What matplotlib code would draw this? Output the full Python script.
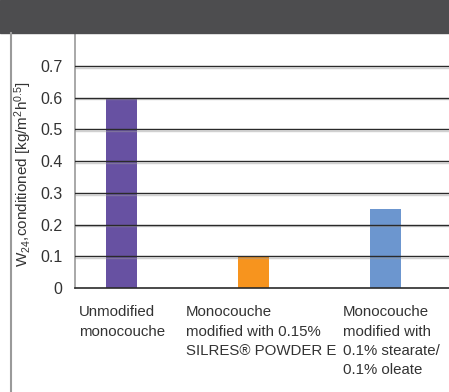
import matplotlib.pyplot as plt
import matplotlib.patheffects as pe
from matplotlib.lines import Line2D
from matplotlib.patches import Rectangle

plt.rcParams['font.family'] = ['Liberation Sans', 'DejaVu Sans']
plt.rcParams['mathtext.fontset'] = 'custom'
plt.rcParams['mathtext.rm'] = 'Liberation Sans'
plt.rcParams['mathtext.it'] = 'Liberation Sans'

categories = ["Unmodified\nmonocouche",
              "Monocouche\nmodified with 0.15%\nSILRES\u00ae POWDER E",
              "Monocouche\nmodified with\n0.1% stearate/\n0.1% oleate"]
values = [0.60, 0.10, 0.25]
bar_colors = ["#6751a2", "#f7941e", "#6c96cf"]
yticks = [0, 0.1, 0.2, 0.3, 0.4, 0.5, 0.6, 0.7]
ytick_labels = ["0", "0.1", "0.2", "0.3", "0.4", "0.5", "0.6", "0.7"]

W, H = 449, 392
fig = plt.figure(figsize=(W / 100, H / 100), dpi=100)

# header band
fig.patches.append(Rectangle((0, 1 - 33 / H), 1, 33 / H, transform=fig.transFigure,
                             color="#4d4d4f", zorder=0))
# left border line
fig.lines.append(Line2D([10.5 / W, 10.5 / W], [0, 1 - 33 / H], transform=fig.transFigure,
                        color="#9a9a9a", lw=1.5))

ax = fig.add_axes([75 / W, 1 - 288 / H, 1 - 75 / W, (288 - 33) / H])
x = list(range(len(values)))
ax.bar(x, values, width=0.235, color=bar_colors, zorder=2)
ax.set_xlim(-0.352, 2.48)
ax.set_ylim(0, 0.804)

for y in yticks[1:]:
    ax.axhline(y, color="#2a2a2a", lw=1.0, zorder=3,
               path_effects=[pe.SimpleLineShadow(offset=(0, -1.2), shadow_color="#999999", alpha=0.45),
                             pe.Normal()])

for s in ["top", "right"]:
    ax.spines[s].set_visible(False)
ax.spines["left"].set_color("#9a9a9a")
ax.spines["left"].set_linewidth(1.2)
ax.spines["bottom"].set_color("#2a2a2a")
ax.spines["bottom"].set_linewidth(1.2)
ax.spines["bottom"].set_zorder(4)

ax.set_xticks([])
ax.set_yticks(yticks)
ax.set_yticklabels(ytick_labels)
ax.tick_params(axis="y", length=0, pad=9, labelsize=11.5, labelcolor="#333333")

fig.text(23 / W, 1 - 174 / H, "W$_{24}$,conditioned [kg/m$^2$h$^{0.5}$]", rotation=90,
         ha="center", va="center", fontsize=11, color="#333333")

label_x = [79, 186, 343]
for lx, lab in zip(label_x, categories):
    fig.text(lx / W, 1 - 305 / H, lab, ha="left", va="top", fontsize=10.8,
             color="#333333", linespacing=1.5)

fig.savefig("out.png", dpi=100)
